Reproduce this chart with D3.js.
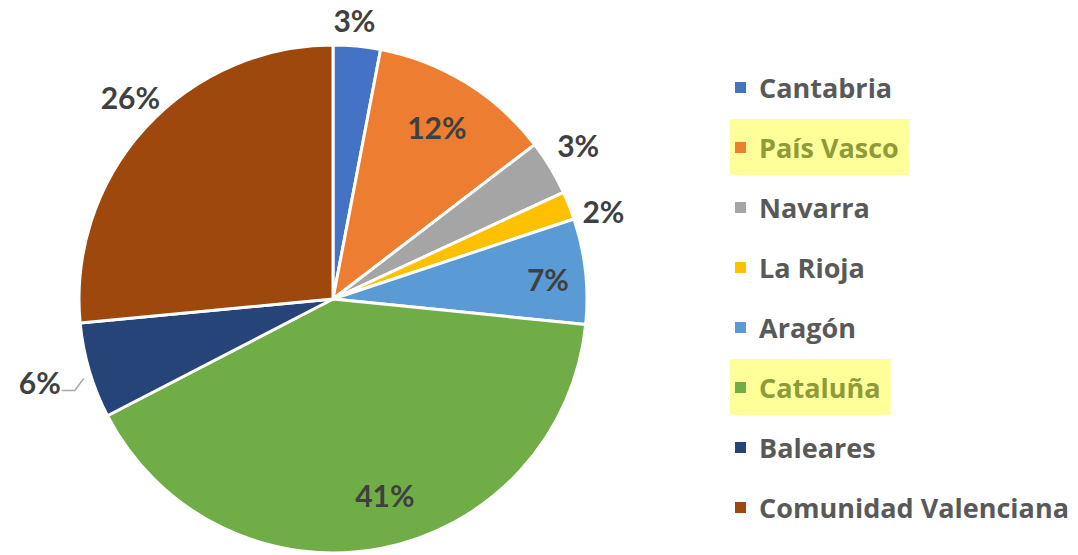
<!DOCTYPE html>
<html><head><meta charset="utf-8">
<script src="https://cdn.jsdelivr.net/npm/d3@7"></script>
<style>
body{margin:0;background:#fff;}
text{font-family:Lato,"Open Sans",sans-serif;font-weight:700;}
.leg{font-family:"Open Sans",Lato,sans-serif;}
</style></head>
<body><svg id="c" width="1078" height="555"></svg>
<script>
const categories = ["Cantabria","País Vasco","Navarra","La Rioja","Aragón","Cataluña","Baleares","Comunidad Valenciana"];
const values = [3.0, 11.6, 3.5, 1.8, 6.7, 40.8, 6.1, 26.5];
const labels = ["3%","12%","3%","2%","7%","41%","6%","26%"];
const colors = ["#4472C4","#ED7D31","#A5A5A5","#FFC000","#5B9BD5","#70AD47","#264478","#9E480E"];
const highlighted = ["País Vasco","Cataluña"];
// label placement: radius factor and angle shift (deg)
const labelR = [1.1, 0.79, 1.14, 1.12, 0.85, 0.8, 1.2, 1.126];
const labelDA = [-1, -0.5, -1, 3.5, 1, -4, 0.5, 2.6];

const svg = d3.select("#c");
const cx = 333, cy = 299, R = 254;
const g = svg.append("g").attr("transform",`translate(${cx},${cy})`);
const pie = d3.pie().sort(null).value(d=>d)(values);
const arc = d3.arc().innerRadius(0).outerRadius(R);
g.selectAll("path").data(pie).join("path")
  .attr("d",arc).attr("fill",(d,i)=>colors[i])
  .attr("stroke","#fff").attr("stroke-width",3).attr("stroke-linejoin","round");

function polar(a,r){return [Math.sin(a)*r, -Math.cos(a)*r];}
pie.forEach((d,i)=>{
  const mid = (d.startAngle+d.endAngle)/2 + labelDA[i]*Math.PI/180;
  const [x,y] = polar(mid, R*labelR[i]);
  g.append("text").attr("x",x).attr("y",y)
    .attr("text-anchor","middle").attr("dominant-baseline","central")
    .attr("font-size",30).attr("fill","#404040").text(labels[i]);
});
// leader line for Baleares label
{
  const d = pie[6];
  const mid = (d.startAngle+d.endAngle)/2 - 1.3*Math.PI/180;
  const [x0,y0] = polar(mid, R*1.03);
  g.append("path").attr("d",`M${x0},${y0}l-9,12l-13,0`)
    .attr("fill","none").attr("stroke","#A6A6A6").attr("stroke-width",1.5);
}

// legend
const ly0 = 87, lstep = 60, lx = 735;
const leg = svg.append("g");
categories.forEach((c,i)=>{
  const y = ly0 + i*lstep;
  const hl = highlighted.includes(c);
  const t = leg.append("text").attr("class","leg").attr("x",lx+24).attr("y",y)
    .attr("dominant-baseline","central").attr("font-size",27)
    .attr("fill", hl ? "#8E9B3A" : "#595959").text(c);
  if(hl){
    const w = t.node().getComputedTextLength();
    leg.insert("rect","text").attr("x",lx-5).attr("y",y-28).attr("width",w+39).attr("height",56)
      .attr("fill","#FFFF99");
  }
  leg.append("rect").attr("x",lx).attr("y",y-5).attr("width",11).attr("height",11).attr("fill",colors[i]);
});
</script></body></html>
